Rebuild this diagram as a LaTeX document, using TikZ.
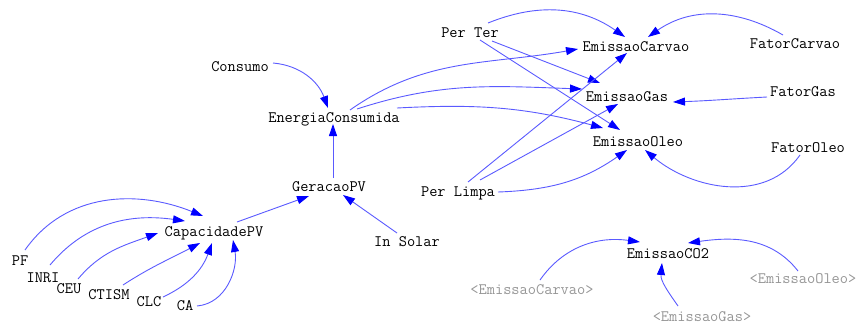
\documentclass[tikz,border=0pt]{standalone}
\usepackage{fontspec}
\usetikzlibrary{arrows.meta}
\definecolor{linkblue}{RGB}{90,90,255}
\definecolor{headblue}{RGB}{0,0,255}
\definecolor{shadowgray}{RGB}{150,150,150}
\begin{document}
\begin{tikzpicture}[x=1bp,y=1bp,
  var/.style={inner sep=1bp, text height=12bp, text depth=2bp, font=\ttfamily\fontsize{16}{18}\selectfont\addfontfeatures{FakeBold=0.8}},
  ghost/.style={var, text=shadowgray},
  link/.style={draw=linkblue, line width=0.9bp, -{Triangle[length=12bp,width=8bp,color=headblue]}}]
\useasboundingbox (0,0) rectangle (856,-324);
% nodes
\node[var] (pf) at (20,-260) {PF};
\node[var] (inri) at (43,-277) {INRI};
\node[var] (ceu) at (69,-288) {CEU};
\node[var] (ctism) at (109,-294) {CTISM};
\node[var] (clc) at (149,-301) {CLC};
\node[var] (ca) at (185,-305) {CA};
\node[var] (cap) at (214,-231) {CapacidadePV};
\node[var] (ger) at (329,-186) {GeracaoPV};
\node[var] (sol) at (407,-241) {In Solar};
\node[var] (ec) at (334,-117) {EnergiaConsumida};
\node[var] (cons) at (240,-66) {Consumo};
\node[var] (perter) at (470,-32) {Per Ter};
\node[var] (ecar) at (636,-46) {EmissaoCarvao};
\node[var] (egas) at (627,-96) {EmissaoGas};
\node[var] (eole) at (638,-141) {EmissaoOleo};
\node[var] (fcar) at (795,-43) {FatorCarvao};
\node[var] (fgas) at (803,-91) {FatorGas};
\node[var] (fole) at (808,-147) {FatorOleo};
\node[var] (plimpa) at (458,-191) {Per Limpa};
\node[var] (eco2) at (668,-253) {EmissaoCO2};
\node[ghost] (gcar) at (532,-289) {<EmissaoCarvao>};
\node[ghost] (ggas) at (702,-316) {<EmissaoGas>};
\node[ghost] (gole) at (803,-278) {<EmissaoOleo>};
% links into CapacidadePV
\draw[link] ([shift={(5,10)}]pf.center) to[out=55,in=158] ([shift={(-11,15)}]cap.center);
\draw[link] ([shift={(7,12)}]inri.center) to[out=50,in=172] ([shift={(-29,10)}]cap.center);
\draw[link] ([shift={(9,9)}]ceu.center) to[out=50,in=200] ([shift={(-56,-2)}]cap.center);
\draw[link] ([shift={(14,9)}]ctism.center) to[out=33,in=208] ([shift={(-14,-12)}]cap.center);
\draw[link] ([shift={(14,4)}]clc.center) to[out=25,in=250] ([shift={(-2,-12)}]cap.center);
\draw[link] ([shift={(12,-1)}]ca.center) to[out=5,in=-80] ([shift={(19,-9)}]cap.center);
% PV chain
\draw[link] ([shift={(23,9)}]cap.center) -- ([shift={(-20,-10)}]ger.center);
\draw[link] ([shift={(-10,8)}]sol.center) -- ([shift={(14,-9)}]ger.center);
\draw[link] ([shift={(4,8)}]ger.center) -- ([shift={(-1,-7)}]ec.center);
\draw[link] ([shift={(33,3)}]cons.center) to[out=-5,in=110] ([shift={(-6,9)}]ec.center);
% EnergiaConsumida to emissions
\draw[link] ([shift={(16,7)}]ec.center) to[out=35,in=190] ([shift={(-58,-3)}]ecar.center);
\draw[link] ([shift={(23,8)}]ec.center) to[out=18,in=178] ([shift={(-45,7)}]egas.center);
\draw[link] ([shift={(63,9)}]ec.center) to[out=3,in=165] ([shift={(-35,13)}]eole.center);
% Per Ter
\draw[link] ([shift={(18,9)}]perter.center) to[out=22,in=145] ([shift={(-11,9)}]ecar.center);
\draw[link] ([shift={(22,-9)}]perter.center) -- ([shift={(-27,13)}]egas.center);
\draw[link] ([shift={(10,-8)}]perter.center) -- ([shift={(-18,11)}]eole.center);
% factors
\draw[link] ([shift={(-12,8)}]fcar.center) to[out=150,in=35] ([shift={(12,9)}]ecar.center);
\draw[link] ([shift={(-36,-6)}]fgas.center) to[out=183,in=2] ([shift={(46,-6)}]egas.center);
\draw[link] ([shift={(-8,-8)}]fole.center) to[out=-125,in=-40] ([shift={(7,-9)}]eole.center);
% Per Limpa
\draw[link] ([shift={(10,9)}]plimpa.center) -- ([shift={(-9,-7)}]ecar.center);
\draw[link] ([shift={(22,11)}]plimpa.center) -- ([shift={(-9,-8)}]egas.center);
\draw[link] ([shift={(40,-1)}]plimpa.center) to[out=2,in=215] ([shift={(-11,-9)}]eole.center);
% CO2
\draw[link] ([shift={(8,9)}]gcar.center) to[out=55,in=172] ([shift={(-28,11)}]eco2.center);
\draw[link] ([shift={(-24,10)}]ggas.center) to[out=125,in=-95] ([shift={(-6,-10)}]eco2.center);
\draw[link] ([shift={(-5,7)}]gole.center) to[out=128,in=8] ([shift={(20,10)}]eco2.center);
\end{tikzpicture}
\end{document}
